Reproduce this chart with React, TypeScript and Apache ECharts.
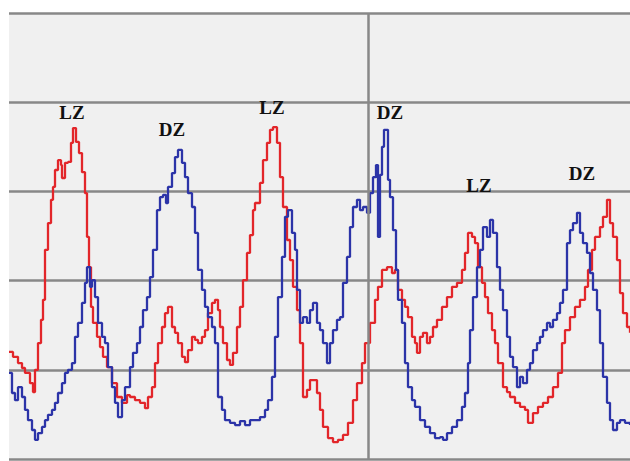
import React, { useEffect, useRef } from "react";
import * as echarts from "echarts";

// sample time (arbitrary units) and signal level (0–100 scale)
const redTime = [0, 4, 9, 13, 16, 21, 24, 26, 29, 32, 34, 36, 39, 42, 44, 46, 49, 52, 53, 56, 59, 62, 64, 67, 70, 73, 76, 78, 80, 82, 84, 88, 91, 94, 98, 103, 108, 113, 118, 121, 126, 131, 136, 139, 143, 146, 149, 153, 156, 159, 163, 166, 169, 173, 176, 179, 183, 186, 189, 193, 196, 199, 203, 206, 209, 211, 214, 218, 221, 224, 228, 231, 234, 238, 241, 244, 246, 251, 254, 258, 261, 264, 268, 271, 274, 278, 281, 284, 288, 291, 294, 298, 301, 304, 308, 311, 314, 319, 324, 329, 334, 339, 344, 348, 353, 356, 361, 366, 369, 373, 378, 383, 386, 389, 393, 396, 399, 403, 406, 408, 411, 414, 418, 421, 424, 428, 433, 438, 443, 448, 453, 456, 459, 463, 466, 469, 473, 476, 479, 483, 486, 489, 494, 498, 501, 506, 511, 516, 519, 524, 529, 534, 539, 544, 549, 553, 556, 561, 566, 571, 576, 579, 583, 586, 591, 594, 598, 601, 604, 608, 611, 614, 618, 621];
const redLevel = [24.0, 22.9, 21.5, 20.4, 19.3, 17.0, 15.0, 20.0, 26.0, 31.2, 35.7, 46.9, 52.9, 58.1, 61.0, 64.8, 67.0, 65.9, 63.0, 66.4, 66.6, 70.9, 74.2, 71.1, 68.6, 64.3, 59.6, 49.8, 43.0, 34.1, 30.5, 27.4, 25.1, 22.9, 20.6, 17.0, 13.9, 12.6, 14.3, 13.9, 13.2, 12.6, 11.4, 13.9, 16.1, 21.5, 26.0, 29.6, 32.7, 34.1, 29.6, 28.3, 26.0, 22.9, 21.7, 24.4, 27.4, 26.7, 26.0, 27.4, 28.9, 32.7, 35.0, 35.7, 33.4, 29.6, 26.0, 22.2, 21.1, 23.8, 29.6, 34.1, 40.1, 46.2, 50.2, 55.8, 57.4, 61.9, 67.0, 70.9, 73.8, 74.4, 70.9, 63.2, 56.5, 49.1, 44.6, 38.6, 33.4, 26.0, 13.9, 15.5, 17.7, 17.7, 14.8, 11.0, 7.2, 4.7, 3.8, 4.3, 5.4, 8.1, 13.2, 17.0, 21.5, 26.0, 30.5, 35.7, 38.6, 42.4, 43.0, 41.7, 42.4, 37.9, 35.7, 34.1, 31.8, 27.4, 26.0, 23.8, 27.4, 28.3, 26.0, 27.4, 29.6, 31.2, 34.1, 36.3, 38.6, 39.5, 42.4, 46.2, 50.7, 49.8, 48.4, 43.0, 39.5, 36.3, 32.7, 28.9, 26.0, 21.5, 16.1, 15.0, 13.9, 12.6, 11.7, 11.0, 8.1, 10.3, 11.7, 12.6, 13.9, 16.1, 19.3, 26.0, 28.9, 31.8, 34.1, 35.7, 38.6, 42.4, 46.9, 49.8, 52.0, 54.3, 58.1, 52.9, 49.8, 44.6, 37.2, 32.7, 29.6, 28.3];

const blueTime = [0, 3, 6, 9, 13, 16, 19, 23, 26, 29, 33, 36, 39, 43, 46, 49, 53, 56, 59, 63, 66, 69, 73, 76, 78, 81, 83, 86, 89, 93, 96, 99, 103, 106, 109, 113, 116, 121, 124, 128, 131, 134, 138, 141, 144, 148, 151, 154, 157, 159, 163, 166, 169, 173, 176, 179, 183, 186, 189, 193, 196, 199, 203, 206, 209, 213, 216, 221, 226, 231, 236, 241, 246, 251, 256, 259, 263, 266, 269, 273, 276, 279, 283, 286, 288, 291, 294, 298, 301, 304, 308, 311, 314, 318, 321, 324, 328, 331, 334, 338, 341, 344, 348, 351, 354, 358, 361, 364, 367, 369, 371, 373, 375, 379, 381, 384, 387, 389, 393, 396, 399, 403, 406, 411, 416, 421, 426, 431, 434, 438, 443, 448, 453, 456, 459, 461, 464, 468, 471, 474, 478, 481, 484, 488, 491, 494, 498, 501, 504, 508, 511, 514, 518, 521, 524, 528, 531, 534, 538, 541, 544, 548, 551, 554, 558, 561, 564, 568, 571, 574, 578, 581, 584, 588, 591, 594, 598, 601, 604, 608, 611, 616, 621];
const blueLevel = [19.3, 14.8, 13.2, 16.1, 13.9, 11.0, 8.7, 6.5, 4.3, 5.8, 7.2, 8.7, 9.9, 11.0, 12.6, 14.8, 17.0, 19.3, 20.0, 21.5, 27.4, 30.5, 35.0, 39.5, 43.0, 38.6, 40.1, 36.3, 30.5, 27.4, 26.0, 20.6, 16.1, 12.6, 9.4, 13.2, 16.1, 20.6, 23.8, 26.0, 29.6, 33.4, 36.3, 40.8, 46.9, 55.8, 58.7, 59.2, 57.4, 61.0, 64.1, 67.7, 69.3, 66.4, 63.2, 59.6, 56.5, 50.7, 42.4, 37.9, 34.1, 31.8, 29.6, 26.0, 13.9, 11.0, 8.7, 8.1, 7.6, 8.5, 7.6, 8.7, 8.7, 9.4, 11.0, 13.2, 18.4, 27.4, 36.3, 45.3, 54.3, 55.8, 50.7, 46.9, 37.9, 30.5, 31.8, 30.5, 33.4, 35.0, 30.5, 28.9, 26.0, 21.5, 26.0, 28.9, 31.2, 31.8, 39.5, 45.3, 52.0, 56.5, 58.1, 55.8, 56.5, 55.2, 59.6, 63.2, 65.9, 49.8, 63.7, 70.0, 73.8, 62.6, 58.7, 51.3, 42.4, 35.7, 30.5, 21.5, 16.1, 13.2, 11.7, 8.7, 7.2, 5.8, 4.7, 4.9, 4.3, 5.8, 7.2, 8.7, 11.7, 14.8, 21.5, 28.9, 36.3, 43.0, 46.9, 52.0, 49.8, 53.6, 50.7, 43.0, 37.9, 33.4, 27.4, 22.9, 20.6, 16.1, 18.4, 17.0, 20.0, 21.5, 24.4, 26.0, 27.4, 28.9, 30.5, 29.6, 31.2, 32.7, 35.0, 37.9, 48.4, 51.3, 52.9, 55.2, 50.7, 48.4, 46.2, 41.7, 37.9, 33.4, 26.0, 18.4, 12.6, 8.7, 6.5, 8.1, 8.7, 8.1, 7.6];

const labelNames = ["LZ", "DZ", "LZ", "DZ", "LZ", "DZ"];
const labelTime = [63, 163, 263, 381, 470, 573];
const labelLevel = [77.6, 73.8, 78.7, 77.8, 61.4, 64.1];

const markerTime = 359;
const yTicks = [0, 20, 40, 60, 80, 100];

const zip = (t: number[], v: number[]) => t.map((x, i) => [x, v[i]]);

export default function App() {
  const ref = useRef<HTMLDivElement>(null);
  useEffect(() => {
    if (!ref.current) return;
    const chart = echarts.init(ref.current, null, { renderer: "svg" });
    const gridColor = "#888888";
    chart.setOption({
      animation: false,
      backgroundColor: "#ffffff",
      grid: {
        left: 9,
        right: 0,
        top: 13,
        bottom: 2,
        show: true,
        backgroundColor: "#f0f0f0",
        borderWidth: 0,
      },
      xAxis: {
        type: "value",
        min: 0,
        max: 621,
        show: false,
        splitLine: { show: false },
      },
      yAxis: {
        type: "value",
        min: yTicks[0],
        max: yTicks[yTicks.length - 1],
        interval: yTicks[1] - yTicks[0],
        axisLine: { show: false },
        axisTick: { show: false },
        axisLabel: { show: false },
        splitLine: { show: true, lineStyle: { color: gridColor, width: 2.5 } },
      },
      series: [
        {
          type: "line",
          name: "red",
          data: zip(redTime, redLevel),
          step: "end",
          showSymbol: false,
          lineStyle: { color: "#e2262a", width: 2.3 },
          itemStyle: { color: "#e2262a" },
          markLine: {
            silent: true,
            symbol: "none",
            label: { show: false },
            lineStyle: { color: gridColor, width: 2.5, type: "solid" },
            data: [{ xAxis: markerTime }],
          },
        },
        {
          type: "line",
          name: "blue",
          data: zip(blueTime, blueLevel),
          step: "end",
          showSymbol: false,
          lineStyle: { color: "#2c34a8", width: 2.3 },
          itemStyle: { color: "#2c34a8" },
          markPoint: {
            symbol: "circle",
            symbolSize: 0,
            label: {
              show: true,
              position: "inside",
              color: "#111111",
              fontFamily: "Liberation Serif, serif",
              fontWeight: "bold",
              fontSize: 19,
              formatter: (p: any) => p.name,
            },
            data: labelNames.map((n, i) => ({
              name: n,
              coord: [labelTime[i], labelLevel[i]],
            })),
          },
        },
      ],
    });
    return () => chart.dispose();
  }, []);
  return (
    <div
      ref={ref}
      style={{ position: "fixed", left: 0, top: 0, width: 630, height: 461 }}
    />
  );
}
